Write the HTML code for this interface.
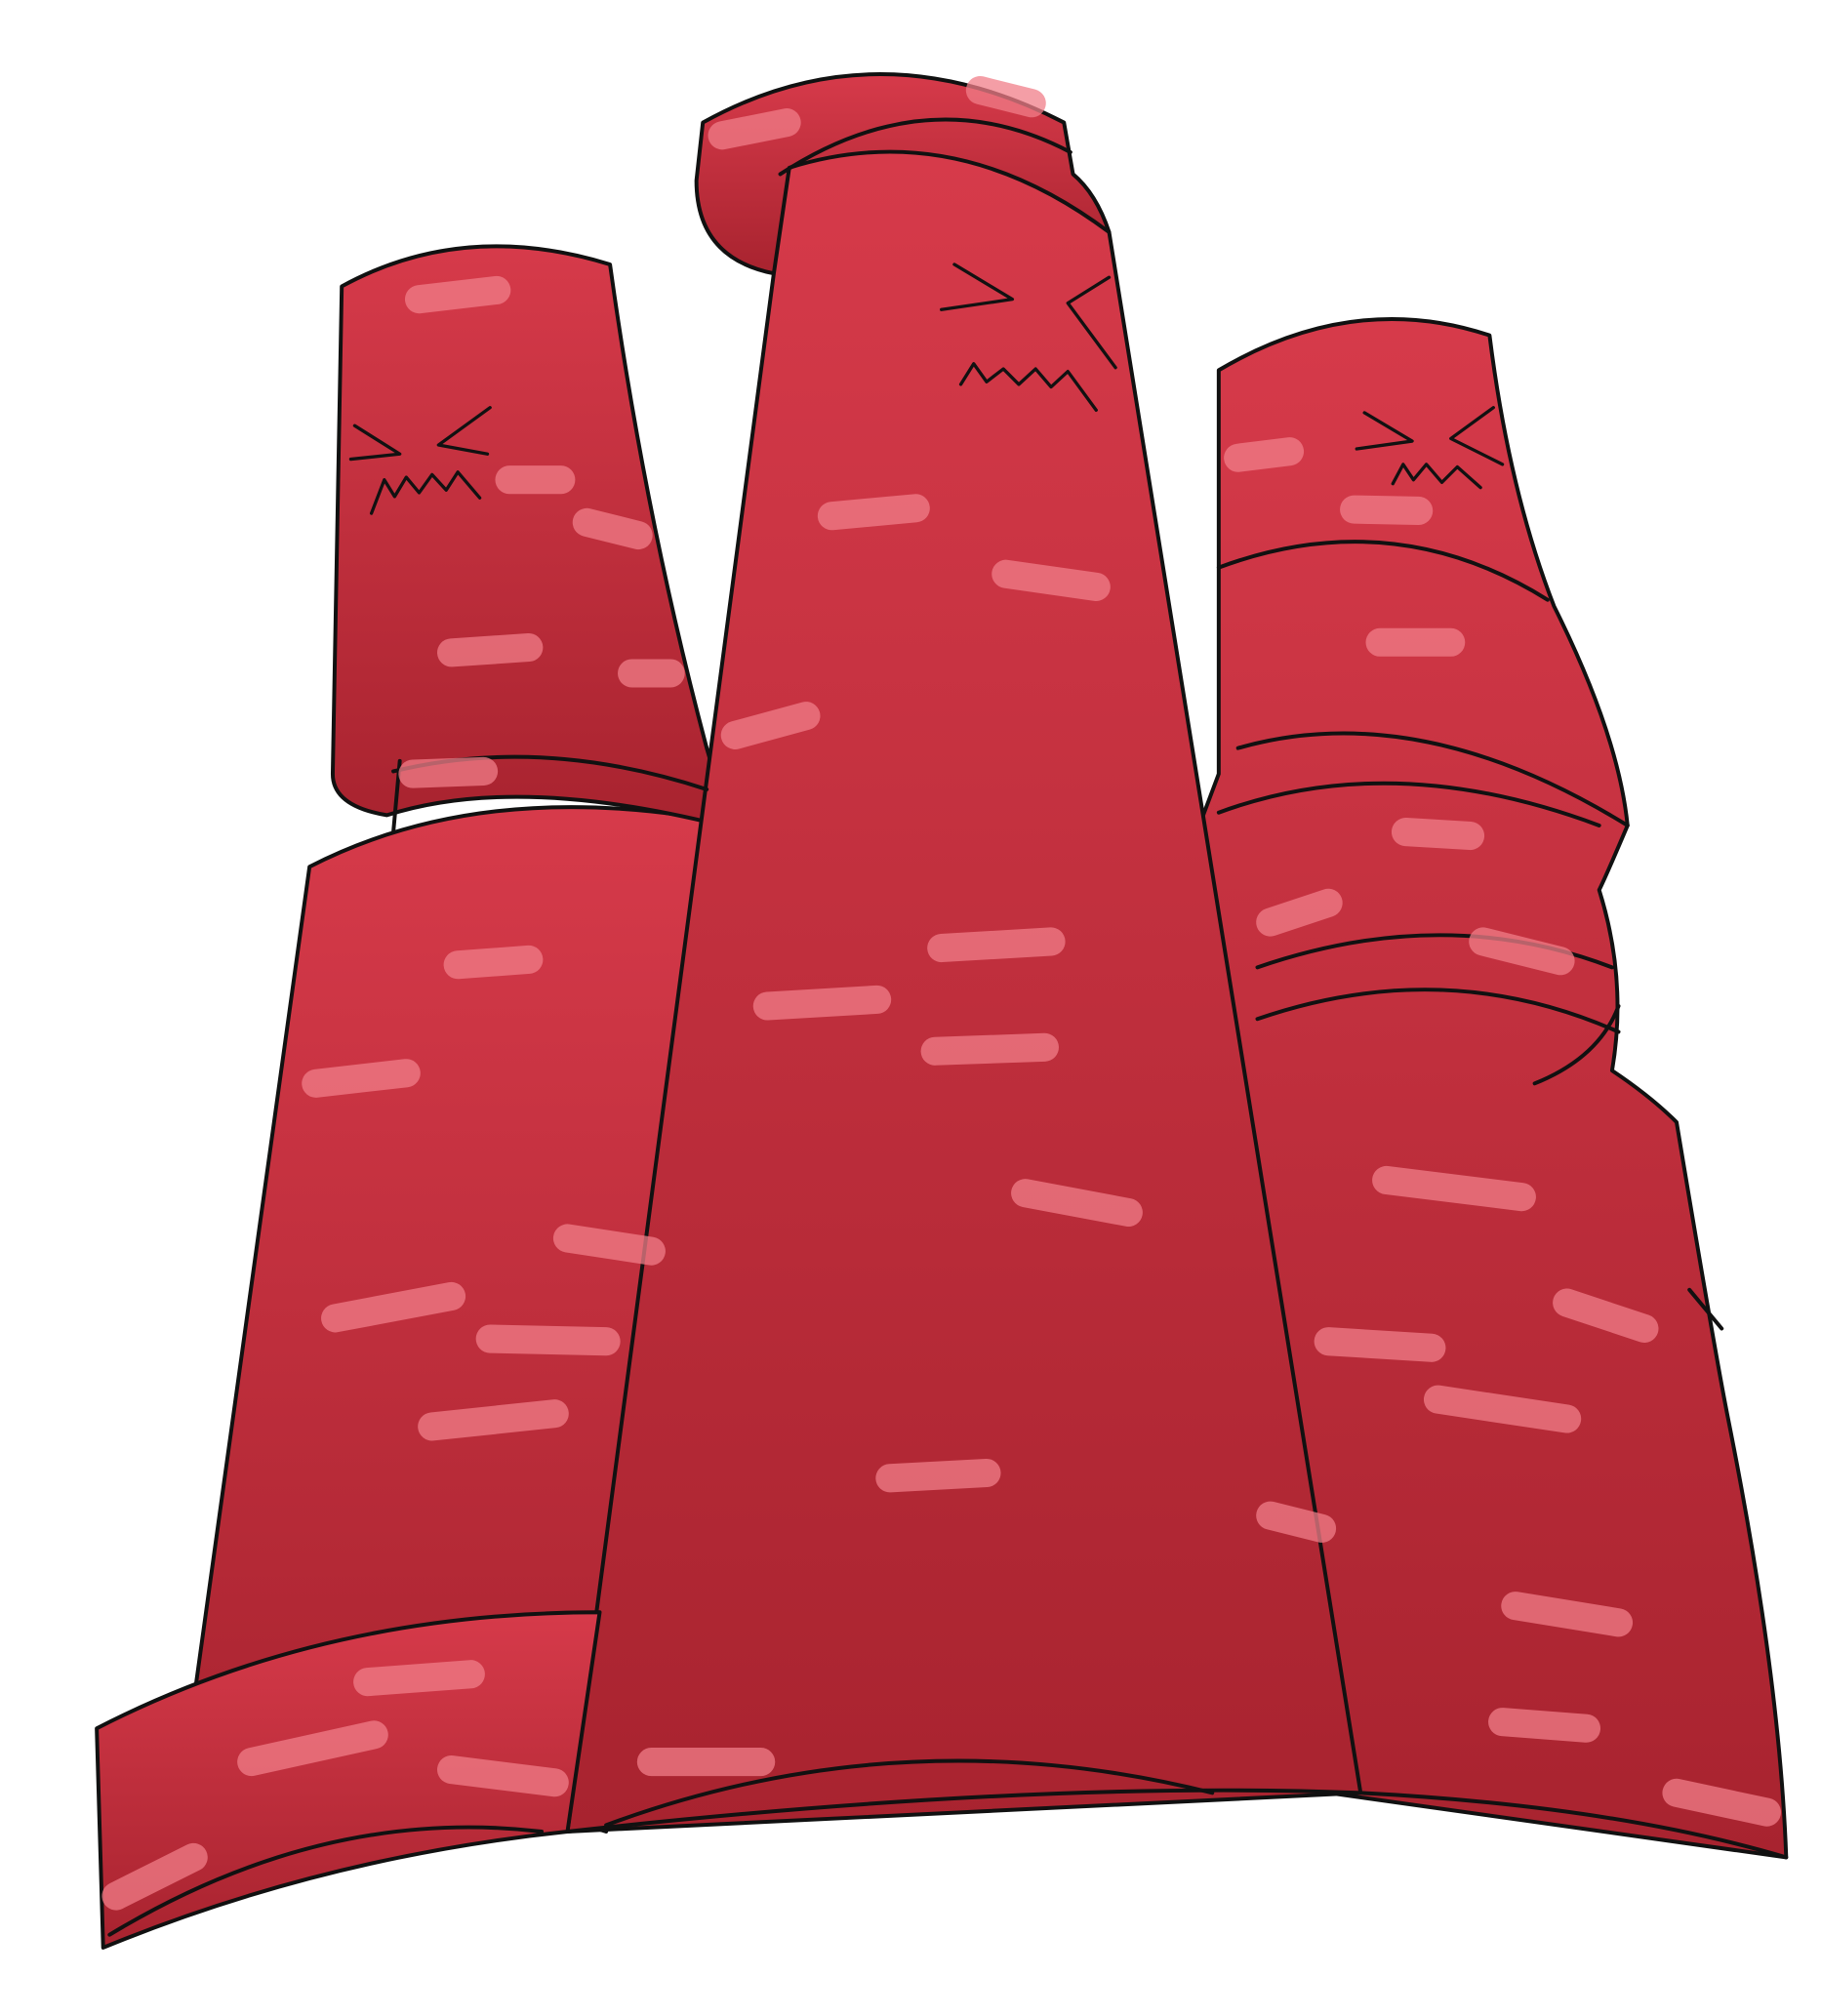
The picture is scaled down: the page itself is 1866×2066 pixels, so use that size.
<!DOCTYPE html>
<html><head><meta charset="utf-8">
<style>
html,body{margin:0;padding:0;background:#fff;width:1866px;height:2066px;overflow:hidden}
svg{display:block}
</style></head>
<body>
<svg width="1866" height="2066" viewBox="0 0 1412 1563" preserveAspectRatio="none" xmlns="http://www.w3.org/2000/svg">
<defs>
<linearGradient id="g" x1="0" y1="0" x2="0" y2="1">
<stop offset="0" stop-color="#d63a4a"/><stop offset="1" stop-color="#a8232f"/>
</linearGradient>
</defs>
<g stroke="#111" stroke-width="3" stroke-linejoin="round" fill="url(#g)">
<path d="M240,672 Q380,600 575,640 L470,1420 L150,1320 Z"/>
<path d="M265,222 Q360,170 473,205 Q500,400 548,580 Q560,620 560,640 Q400,600 300,632 Q258,625 258,600 Z"/>
<path d="M945,287 Q1050,225 1155,260 Q1170,380 1205,470 Q1255,570 1262,640 Q1245,680 1240,690 Q1262,760 1250,830 Q1280,850 1300,870 Q1330,1050 1340,1100 Q1380,1300 1385,1440 L1030,1390 L930,640 L945,600 Z"/>
<path d="M545,95 Q680,20 825,95 L832,135 Q850,150 860,180 L600,212 Q540,200 540,140 Z"/>
<path d="M600,212 L612,130 Q740,90 860,180 L1055,1390 L440,1420 Z"/>
<path d="M75,1340 Q250,1250 465,1250 L440,1420 Q250,1440 80,1510 Z"/>
</g>
<g fill="none" stroke="#111" stroke-width="3" stroke-linecap="round">
<path d="M440,1420 Q800,1380 1055,1390 Q1250,1400 1385,1440"/>
<path d="M305,598 Q420,570 548,612"/>
<path d="M305,645 L310,590"/>
<path d="M605,135 Q720,60 830,118"/>
<path d="M945,440 Q1080,390 1200,465"/>
<path d="M960,580 Q1100,540 1262,640"/>
<path d="M945,630 Q1080,580 1240,640"/>
<path d="M975,750 Q1120,700 1250,750"/>
<path d="M975,790 Q1120,740 1255,800"/>
<path d="M1190,840 Q1240,820 1255,780"/>
<path d="M470,1415 Q700,1330 940,1390"/>
<path d="M85,1500 Q250,1400 420,1420"/>
<path d="M1310,1000 L1335,1030"/>
</g>
<g stroke="#f07d88" stroke-opacity="0.75" stroke-width="22" stroke-linecap="round" fill="none">
<path d="M325,232 L385,225"/><path d="M395,372 L435,372"/><path d="M455,405 L495,415"/>
<path d="M350,506 L410,502"/><path d="M490,522 L520,522"/><path d="M320,600 L375,598"/>
<path d="M355,748 L410,744"/><path d="M245,840 L315,832"/><path d="M440,960 L505,970"/>
<path d="M260,1022 L350,1005"/><path d="M380,1038 L470,1040"/><path d="M335,1106 L430,1096"/>
<path d="M285,1304 L365,1298"/><path d="M195,1366 L290,1345"/><path d="M350,1372 L430,1382"/>
<path d="M645,400 L710,394"/><path d="M780,445 L850,455"/><path d="M730,735 L815,730"/>
<path d="M595,780 L680,775"/><path d="M725,815 L810,812"/><path d="M795,925 L875,940"/>
<path d="M690,1146 L765,1142"/><path d="M505,1366 L590,1366"/><path d="M570,570 L625,555"/>
<path d="M560,105 L610,95"/><path d="M760,70 L800,80"/>
<path d="M960,355 L1000,350"/><path d="M1050,395 L1100,396"/><path d="M1070,498 L1125,498"/>
<path d="M1090,645 L1140,648"/><path d="M985,715 L1030,700"/><path d="M1150,730 L1210,745"/>
<path d="M1075,915 L1180,928"/><path d="M1030,1040 L1110,1045"/><path d="M1115,1085 L1215,1100"/>
<path d="M1215,1010 L1275,1030"/><path d="M1175,1245 L1255,1258"/><path d="M1165,1335 L1230,1340"/>
<path d="M985,1175 L1025,1185"/><path d="M1300,1390 L1370,1405"/><path d="M90,1470 L150,1440"/>
</g>
<g fill="none" stroke="#111" stroke-width="2.5" stroke-linecap="round" stroke-linejoin="round">
<path d="M275,330 L310,352 L272,356 M380,316 L340,345 L378,352 M288,398 L298,372 L306,385 L315,370 L325,382 L335,368 L346,380 L355,366 L372,386"/>
<path d="M740,205 L785,232 L730,240 M860,215 L828,235 L865,285 M745,298 L755,282 L765,296 L778,286 L790,298 L803,286 L815,300 L828,288 L850,318"/>
<path d="M1058,320 L1095,342 L1052,348 M1158,316 L1125,340 L1165,360 M1080,375 L1088,360 L1096,372 L1106,360 L1118,374 L1130,362 L1148,378"/>
</g>
</svg>
</body></html>
